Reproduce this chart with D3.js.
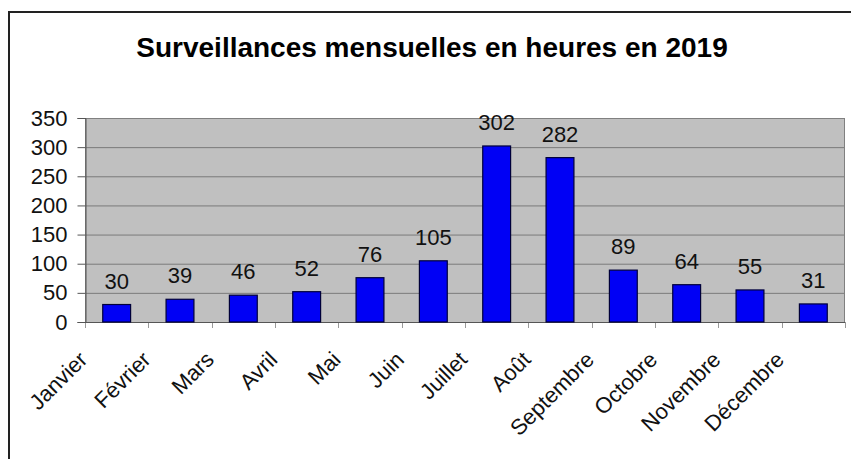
<!DOCTYPE html>
<html>
<head>
<meta charset="utf-8">
<script src="https://cdn.jsdelivr.net/npm/d3@7"></script>
<style>
  body { margin: 0; background: #ffffff; }
  svg { display: block; font-family: "Liberation Sans", Arial, sans-serif; }
</style>
</head>
<body>
<div id="chart"></div>
<script>
// Data
const months = ['Janvier', 'Février', 'Mars', 'Avril', 'Mai', 'Juin', 'Juillet', 'Août', 'Septembre', 'Octobre', 'Novembre', 'Décembre'];
const hours = [30, 39, 46, 52, 76, 105, 302, 282, 89, 64, 55, 31];
const yTicks = [0, 50, 100, 150, 200, 250, 300, 350];
const title = 'Surveillances mensuelles en heures en 2019';

const width = 851,
	height = 459;
const plot = { left: 85, right: 845, top: 118, bottom: 322 };

const svg = d3.select('#chart').append('svg')
	.attr('width', width)
	.attr('height', height);

// Outer chart frame (only top and left edges are visible)
svg.append('rect')
	.attr('x', 9)
	.attr('y', 12)
	.attr('width', width + 20)
	.attr('height', height + 20)
	.attr('fill', '#ffffff')
	.attr('stroke', '#222222')
	.attr('stroke-width', 2);

// Title
svg.append('text')
	.attr('x', 432)
	.attr('y', 57)
	.attr('text-anchor', 'middle')
	.style('font-size', '28px')
	.style('font-weight', 'bold')
	.style('fill', '#000')
	.text(title);

// Scales
const x = d3.scaleBand()
	.domain(months)
	.range([plot.left, plot.right])
	.paddingInner(0.56)
	.paddingOuter(0.28);

const y = d3.scaleLinear()
	.domain([0, 350])
	.range([plot.bottom, plot.top]);

// Plot background
svg.append('rect')
	.attr('x', plot.left)
	.attr('y', plot.top)
	.attr('width', plot.right - plot.left)
	.attr('height', plot.bottom - plot.top)
	.attr('fill', '#c0c0c0');

// Gridlines
svg.append('g')
	.selectAll('line')
	.data(yTicks.filter(d => d > 0 && d < 350))
	.join('line')
	.attr('x1', plot.left)
	.attr('x2', plot.right)
	.attr('y1', d => y(d) + 0.5)
	.attr('y2', d => y(d) + 0.5)
	.attr('stroke', '#7a7a7a')
	.attr('stroke-width', 1);

// Plot border
svg.append('rect')
	.attr('x', plot.left + 0.5)
	.attr('y', plot.top + 0.5)
	.attr('width', plot.right - plot.left - 1)
	.attr('height', plot.bottom - plot.top)
	.attr('fill', 'none')
	.attr('stroke', '#808080')
	.attr('stroke-width', 1);

// Y axis
const yAxis = svg.append('g')
	.attr('transform', 'translate(' + (plot.left + 0.5) + ',0)')
	.call(d3.axisLeft(y).tickValues(yTicks).tickSize(8).tickPadding(10));
yAxis.select('.domain').attr('stroke', '#555');
yAxis.selectAll('.tick line').attr('stroke', '#555');
yAxis.selectAll('.tick text')
	.style('font-size', '22px')
	.style('font-family', '"Liberation Sans", Arial, sans-serif')
	.attr('fill', '#111');

// Category ticks on the x axis (at band boundaries)
const step = x.step();
const bounds = d3.range(months.length + 1).map(i => plot.left + i * step);
svg.append('g')
	.selectAll('line')
	.data(bounds)
	.join('line')
	.attr('x1', d => Math.round(d) + 0.5)
	.attr('x2', d => Math.round(d) + 0.5)
	.attr('y1', plot.bottom)
	.attr('y2', plot.bottom + 6)
	.attr('stroke', '#999');

svg.append('line')
	.attr('x1', plot.left)
	.attr('x2', plot.right)
	.attr('y1', plot.bottom + 0.5)
	.attr('y2', plot.bottom + 0.5)
	.attr('stroke', '#555');

// Bars
svg.append('g')
	.selectAll('rect')
	.data(hours)
	.join('rect')
	.attr('x', (d, i) => x(months[i]))
	.attr('y', d => y(d))
	.attr('width', x.bandwidth())
	.attr('height', d => plot.bottom - y(d))
	.attr('fill', '#0000f5')
	.attr('stroke', '#00003a')
	.attr('stroke-width', 1.2);

// Value labels
svg.append('g')
	.selectAll('text')
	.data(hours)
	.join('text')
	.attr('x', (d, i) => x(months[i]) + x.bandwidth() / 2)
	.attr('y', d => y(d) - 16)
	.attr('text-anchor', 'middle')
	.style('font-size', '22px')
	.style('fill', '#111')
	.text(d => d);

// Month labels, rotated
svg.append('g')
	.selectAll('text')
	.data(months)
	.join('text')
	.attr('transform', d => 'translate(' + (x(d) + x.bandwidth() / 2 - 28) + ',361) rotate(-45)')
	.attr('text-anchor', 'end')
	.style('font-size', '22px')
	.style('fill', '#111')
	.text(d => d);
</script>
</body>
</html>
